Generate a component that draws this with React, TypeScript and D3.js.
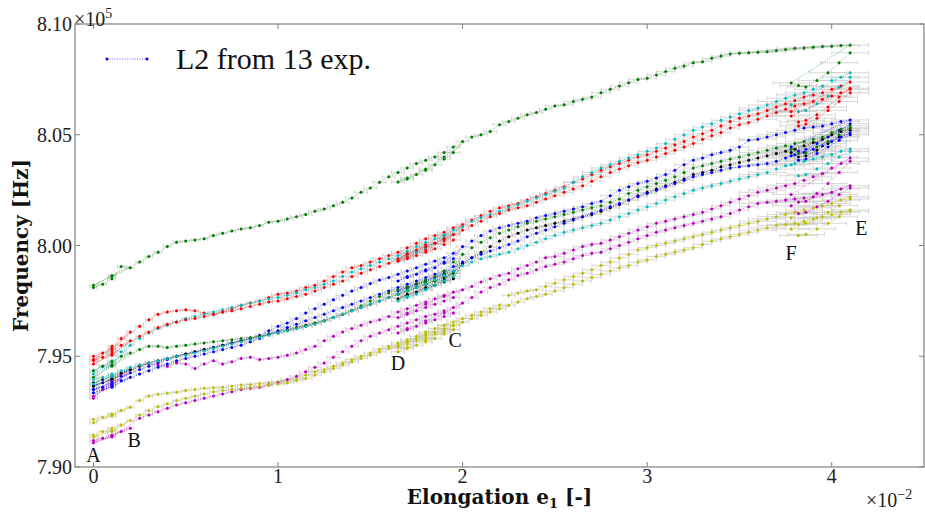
import React from 'react';
import * as d3 from 'd3';

// ---------- data (elongation in 1e-2, frequency in 1e5 Hz) ----------
const ELONGATION = [
  0, 0.05, 0.1, 0.15, 0.2, 0.25, 0.3, 0.35, 0.4, 0.45,
  0.5, 0.55, 0.6, 0.65, 0.7, 0.75, 0.8, 0.85, 0.9, 0.95,
  1.0, 1.05, 1.1, 1.15, 1.2, 1.25, 1.3, 1.35, 1.4, 1.45,
  1.5, 1.55, 1.6, 1.65, 1.7, 1.75, 1.8, 1.85, 1.9, 1.95,
  2.0, 2.05, 2.1, 2.15, 2.2, 2.25, 2.3, 2.35, 2.4, 2.45,
  2.5, 2.55, 2.6, 2.65, 2.7, 2.75, 2.8, 2.85, 2.9, 2.95,
  3.0, 3.05, 3.1, 3.15, 3.2, 3.25, 3.3, 3.35, 3.4, 3.45,
  3.5, 3.55, 3.6, 3.65, 3.7, 3.75, 3.8, 3.85, 3.9, 3.95,
  4.0, 4.05, 4.1,
];
// unloading / reloading cycles: A-B, C-D, E-F
const START_LOOP_X = [0.1, 0, 0.1];
const CD_UNLOAD_X = [1.95, 1.9, 1.85, 1.8, 1.75, 1.7, 1.65];
const CD_RELOAD_X = [1.7, 1.8, 1.9];
const EF_LOOP_X = [3.78, 3.82, 3.86, 3.92, 3.98, 4.04, 4.1];

const X_TICKS = [0, 1, 2, 3, 4];
const Y_TICKS = [7.9, 7.95, 8.0, 8.05, 8.1];
const Y_TICK_LABELS = ['7.90', '7.95', '8.00', '8.05', '8.10'];

const ERR_BREAKS = [0, 1.0, 2.5, 3.6];
const ERR_HALF_X = [0.02, 0.035, 0.05, 0.1];
const ERR_HALF_Y = 0.001;

const POINT_LABELS = ['A', 'B', 'C', 'D', 'E', 'F'];
const POINT_LABEL_X = [0, 0.22, 1.96, 1.65, 4.16, 3.78];
const POINT_LABEL_Y = [7.9023, 7.909, 7.9542, 7.9438, 8.0047, 7.9935];

const COLORS = ['#0000ff', '#008000', '#ff0000', '#00bfbf', '#bf00bf', '#bfbf00', '#000000',
  '#0000ff', '#008000', '#ff0000', '#00bfbf', '#bf00bf', '#bfbf00'];

const exp01 = [
  7.937, 7.938, 7.9395, 7.941, 7.9425, 7.944, 7.9455, 7.947, 7.9485, 7.950,
  7.951, 7.952, 7.953, 7.954, 7.955, 7.956, 7.957, 7.958, 7.9595, 7.9615,
  7.9635, 7.965, 7.967, 7.9695, 7.9715, 7.9735, 7.9755, 7.9775, 7.9795, 7.981,
  7.9828, 7.9844, 7.9855, 7.987, 7.9885, 7.990, 7.9915, 7.993, 7.9945, 7.9965,
  7.9995, 8.002, 8.0045, 8.0065, 8.008, 8.009, 8.010, 8.011, 8.0125, 8.0135,
  8.0145, 8.0155, 8.0165, 8.0175, 8.019, 8.020, 8.0225, 8.025, 8.0265, 8.028,
  8.029, 8.0305, 8.032, 8.034, 8.0365, 8.0385, 8.0395, 8.041, 8.042, 8.043,
  8.0445, 8.0475, 8.048, 8.049, 8.050, 8.051, 8.052, 8.053, 8.0535, 8.054,
  8.055, 8.056, 8.0567,
];
const exp01Loops = [7.938, 7.935, 7.9385,
  7.994, 7.992, 7.990, 7.9885, 7.987, 7.9855, 7.984,
  7.986, 7.989, 7.9925,
  8.0445, 8.0425, 8.0435, 8.046, 8.049, 8.052, 8.055];

const exp02 = [
  7.981, 7.9825, 7.985, 7.9905, 7.990, 7.9925, 7.995, 7.997, 7.9995, 8.0015,
  8.002, 8.0025, 8.003, 8.0045, 8.0055, 8.0065, 8.0075, 8.008, 8.009, 8.0105,
  8.011, 8.012, 8.013, 8.014, 8.0155, 8.0165, 8.018, 8.0195, 8.0215, 8.024,
  8.026, 8.0285, 8.031, 8.033, 8.035, 8.037, 8.0385, 8.040, 8.042, 8.0445,
  8.047, 8.049, 8.050, 8.0515, 8.0545, 8.056, 8.0575, 8.059, 8.060, 8.0615,
  8.063, 8.0635, 8.065, 8.066, 8.067, 8.069, 8.0705, 8.072, 8.0735, 8.075,
  8.0755, 8.077, 8.0785, 8.080, 8.081, 8.0825, 8.083, 8.0845, 8.0855, 8.0865,
  8.0868, 8.087, 8.0872, 8.0875, 8.088, 8.0885, 8.089, 8.0892, 8.0895, 8.0898,
  8.090, 8.0903, 8.0905,
];
const exp02Loops = [7.986, 7.982, 7.9865,
  8.042, 8.039, 8.0365, 8.034, 8.032, 8.030, 8.0287,
  8.0305, 8.0345, 8.040,
  8.0734, 8.0722, 8.0716, 8.0745, 8.078, 8.0825, 8.087];

const exp03 = [
  7.950, 7.9515, 7.9545, 7.958, 7.961, 7.9635, 7.9665, 7.969, 7.970, 7.9705,
  7.971, 7.9705, 7.9695, 7.9688, 7.970, 7.9715, 7.973, 7.974, 7.975, 7.9765,
  7.978, 7.9785, 7.9795, 7.981, 7.982, 7.984, 7.986, 7.988, 7.990, 7.991,
  7.9925, 7.994, 7.9955, 7.997, 7.999, 8.001, 8.003, 8.0045, 8.006, 8.008,
  8.0095, 8.0115, 8.0135, 8.0155, 8.017, 8.018, 8.019, 8.0205, 8.022, 8.0235,
  8.025, 8.0265, 8.0285, 8.030, 8.032, 8.034, 8.0355, 8.037, 8.0385, 8.040,
  8.041, 8.0425, 8.044, 8.0455, 8.047, 8.049, 8.0505, 8.052, 8.054, 8.056,
  8.0575, 8.0585, 8.0595, 8.061, 8.0625, 8.064, 8.0655, 8.067, 8.068, 8.069,
  8.0705, 8.072, 8.0738,
];
const exp03Loops = [7.953, 7.9485, 7.9535,
  8.005, 8.003, 8.001, 7.999, 7.997, 7.995, 7.993,
  7.9965, 8.0005, 8.0045,
  8.0605, 8.0558, 8.0565, 8.059, 8.0625, 8.067, 8.071];

const exp04 = [
  7.9435, 7.9455, 7.948, 7.952, 7.955, 7.958, 7.9605, 7.9625, 7.964, 7.9655,
  7.967, 7.968, 7.969, 7.970, 7.971, 7.972, 7.973, 7.974, 7.975, 7.9758,
  7.9765, 7.9775, 7.9785, 7.980, 7.981, 7.9825, 7.984, 7.986, 7.988, 7.9895,
  7.991, 7.9925, 7.994, 7.9955, 7.9975, 7.9995, 8.0015, 8.003, 8.005, 8.007,
  8.0085, 8.011, 8.0125, 8.014, 8.0155, 8.017, 8.0185, 8.020, 8.0215, 8.023,
  8.0245, 8.026, 8.0285, 8.031, 8.033, 8.035, 8.0365, 8.038, 8.0395, 8.041,
  8.0425, 8.044, 8.046, 8.048, 8.050, 8.052, 8.0535, 8.055, 8.0565, 8.058,
  8.0595, 8.061, 8.062, 8.0634, 8.065, 8.0665, 8.068, 8.069, 8.0705, 8.072,
  8.0745, 8.076, 8.078,
];
const exp04Loops = [7.946, 7.942, 7.9465,
  8.005, 8.003, 8.001, 7.999, 7.997, 7.9955, 7.994,
  7.996, 7.9995, 8.0035,
  8.0635, 8.0605, 8.061, 8.064, 8.0675, 8.0715, 8.076];

const exp05 = [
  7.931, 7.935, 7.939, 7.942, 7.944, 7.946, 7.9465, 7.946, 7.9455, 7.947,
  7.9465, 7.9445, 7.9465, 7.948, 7.9465, 7.9475, 7.949, 7.9495, 7.9485, 7.949,
  7.9495, 7.9505, 7.9515, 7.953, 7.9545, 7.957, 7.959, 7.961, 7.9625, 7.964,
  7.9655, 7.9665, 7.968, 7.970, 7.9715, 7.973, 7.9745, 7.976, 7.9775, 7.979,
  7.980, 7.9815, 7.9835, 7.985, 7.9865, 7.9875, 7.9895, 7.991, 7.9925, 7.9945,
  7.995, 7.9965, 7.998, 7.9995, 8.0005, 8.001, 8.0025, 8.004, 8.0055, 8.007,
  8.0085, 8.010, 8.011, 8.012, 8.013, 8.014, 8.015, 8.0165, 8.018, 8.0195,
  8.021, 8.0225, 8.024, 8.025, 8.026, 8.027, 8.028, 8.0295, 8.031, 8.0325,
  8.035, 8.037, 8.0395,
];
const exp05Loops = [7.937, 7.932, 7.937,
  7.9765, 7.975, 7.9735, 7.972, 7.9705, 7.969, 7.9675,
  7.9695, 7.9735, 7.977,
  8.023, 8.0196, 8.020, 8.0235, 8.028, 8.033, 8.038];

const exp06 = [
  7.9215, 7.9225, 7.924, 7.9255, 7.927, 7.930, 7.932, 7.9328, 7.9333, 7.9338,
  7.9345, 7.935, 7.9355, 7.9358, 7.936, 7.9365, 7.937, 7.9373, 7.9377, 7.938,
  7.9385, 7.939, 7.940, 7.9415, 7.943, 7.944, 7.9455, 7.947, 7.9485, 7.950,
  7.9515, 7.9532, 7.9545, 7.956, 7.9575, 7.959, 7.961, 7.9625, 7.964, 7.9655,
  7.967, 7.9685, 7.970, 7.9715, 7.973, 7.9775, 7.9785, 7.9795, 7.980, 7.9815,
  7.983, 7.9845, 7.986, 7.9875, 7.989, 7.991, 7.9925, 7.9944, 7.996, 7.998,
  7.999, 8.000, 8.001, 8.002, 8.003, 8.004, 8.005, 8.006, 8.007, 8.008,
  8.009, 8.010, 8.011, 8.012, 8.013, 8.014, 8.015, 8.016, 8.017, 8.018,
  8.019, 8.0205, 8.022,
];
const exp06Loops = [7.9235, 7.920, 7.923,
  7.964, 7.962, 7.960, 7.9585, 7.957, 7.9555, 7.954,
  7.9565, 7.960, 7.964,
  8.0125, 8.0095, 8.010, 8.0125, 8.015, 8.018, 8.021];

const exp07 = [
  7.938, 7.9395, 7.941, 7.9425, 7.944, 7.9455, 7.947, 7.948, 7.949, 7.950,
  7.951, 7.952, 7.953, 7.954, 7.955, 7.956, 7.957, 7.958, 7.959, 7.960,
  7.961, 7.962, 7.963, 7.964, 7.965, 7.966, 7.9675, 7.969, 7.9705, 7.972,
  7.9735, 7.975, 7.9765, 7.978, 7.9795, 7.981, 7.9825, 7.984, 7.9855, 7.9875,
  7.992, 7.9945, 7.997, 7.9995, 8.002, 8.004, 8.0055, 8.007, 8.008, 8.009,
  8.010, 8.011, 8.012, 8.013, 8.014, 8.0155, 8.017, 8.0185, 8.0205, 8.0225,
  8.024, 8.0255, 8.027, 8.0285, 8.030, 8.032, 8.033, 8.034, 8.0355, 8.0365,
  8.0375, 8.0385, 8.0395, 8.0405, 8.0415, 8.0425, 8.0435, 8.045, 8.0465, 8.048,
  8.050, 8.0515, 8.053,
];
const exp07Loops = [7.9395, 7.9365, 7.940,
  7.985, 7.9835, 7.982, 7.9805, 7.979, 7.9775, 7.976,
  7.978, 7.981, 7.9845,
  8.042, 8.040, 8.0405, 8.043, 8.046, 8.049, 8.052];

const exp08 = [
  7.935, 7.936, 7.9375, 7.939, 7.9405, 7.942, 7.9435, 7.945, 7.9465, 7.948,
  7.949, 7.950, 7.951, 7.952, 7.953, 7.954, 7.955, 7.9565, 7.958, 7.960,
  7.9615, 7.963, 7.9645, 7.966, 7.9675, 7.969, 7.9705, 7.972, 7.9735, 7.975,
  7.9765, 7.978, 7.9795, 7.981, 7.9825, 7.984, 7.9855, 7.987, 7.9885, 7.9905,
  7.9925, 7.9945, 7.996, 7.9975, 7.999, 8.0005, 8.002, 8.004, 8.0055, 8.007,
  8.0085, 8.010, 8.0115, 8.013, 8.0145, 8.016, 8.0175, 8.019, 8.0205, 8.022,
  8.0235, 8.025, 8.0265, 8.028, 8.0295, 8.031, 8.032, 8.033, 8.034, 8.035,
  8.0355, 8.036, 8.0365, 8.037, 8.038, 8.0395, 8.041, 8.042, 8.0435, 8.045,
  8.047, 8.049, 8.0508,
];
const exp08Loops = [7.936, 7.9335, 7.9365,
  7.9885, 7.987, 7.9855, 7.984, 7.9825, 7.981, 7.9795,
  7.981, 7.984, 7.9875,
  8.0405, 8.0385, 8.039, 8.0415, 8.0445, 8.0475, 8.050];

const exp09 = [
  7.9435, 7.9455, 7.9475, 7.950, 7.9515, 7.953, 7.9545, 7.9545, 7.954, 7.9545,
  7.955, 7.9555, 7.956, 7.9565, 7.957, 7.9575, 7.958, 7.9585, 7.959, 7.9598,
  7.9605, 7.9615, 7.9625, 7.9635, 7.9648, 7.966, 7.9675, 7.969, 7.9708, 7.9728,
  7.975, 7.977, 7.9785, 7.980, 7.9815, 7.983, 7.9845, 7.986, 7.9885, 7.9925,
  7.996, 7.999, 8.0015, 8.0035, 8.0055, 8.007, 8.0085, 8.010, 8.011, 8.012,
  8.013, 8.014, 8.015, 8.016, 8.017, 8.018, 8.0195, 8.021, 8.0235, 8.025,
  8.0265, 8.028, 8.0295, 8.031, 8.033, 8.035, 8.036, 8.037, 8.038, 8.039,
  8.040, 8.041, 8.042, 8.043, 8.044, 8.045, 8.046, 8.047, 8.048, 8.049,
  8.051, 8.0525, 8.054,
];
const exp09Loops = [7.946, 7.9405, 7.9455,
  7.9875, 7.986, 7.984, 7.9825, 7.981, 7.9795, 7.978,
  7.9805, 7.9835, 7.987,
  8.0435, 8.0415, 8.042, 8.0445, 8.047, 8.050, 8.053];

const exp10 = [
  7.948, 7.9495, 7.952, 7.955, 7.957, 7.959, 7.961, 7.963, 7.9645, 7.9655,
  7.9665, 7.967, 7.968, 7.969, 7.970, 7.9705, 7.9715, 7.9725, 7.9735, 7.9745,
  7.975, 7.976, 7.977, 7.978, 7.9795, 7.981, 7.9825, 7.984, 7.986, 7.9875,
  7.989, 7.9905, 7.992, 7.994, 7.996, 7.998, 7.9995, 8.001, 8.003, 8.005,
  8.007, 8.009, 8.011, 8.013, 8.0145, 8.016, 8.017, 8.018, 8.0195, 8.021,
  8.0225, 8.024, 8.0255, 8.027, 8.029, 8.031, 8.033, 8.0345, 8.036, 8.0375,
  8.0385, 8.040, 8.0415, 8.043, 8.0445, 8.046, 8.048, 8.0495, 8.051, 8.053,
  8.0545, 8.0555, 8.057, 8.0585, 8.060, 8.0615, 8.063, 8.064, 8.065, 8.066,
  8.0675, 8.069, 8.0705,
];
const exp10Loops = [7.9505, 7.9465, 7.951,
  8.0025, 8.0005, 7.9985, 7.997, 7.9955, 7.994, 7.993,
  7.9945, 7.998, 8.002,
  8.0585, 8.054, 8.0548, 8.0575, 8.061, 8.065, 8.069];

const exp11 = [
  7.9395, 7.9405, 7.942, 7.9435, 7.945, 7.946, 7.947, 7.948, 7.949, 7.950,
  7.9505, 7.9515, 7.9525, 7.9535, 7.9545, 7.9555, 7.9565, 7.9575, 7.9585, 7.9595,
  7.9605, 7.9615, 7.9625, 7.9635, 7.9645, 7.966, 7.9675, 7.969, 7.9705, 7.972,
  7.9735, 7.975, 7.9765, 7.978, 7.9795, 7.981, 7.9825, 7.9845, 7.9865, 7.9885,
  7.991, 7.9925, 7.994, 7.995, 7.996, 7.997, 7.9985, 8.000, 8.0015, 8.003,
  8.0045, 8.006, 8.007, 8.008, 8.009, 8.010, 8.0115, 8.013, 8.0145, 8.016,
  8.0175, 8.019, 8.0205, 8.022, 8.0235, 8.025, 8.026, 8.027, 8.028, 8.029,
  8.030, 8.031, 8.032, 8.033, 8.0345, 8.036, 8.037, 8.038, 8.039, 8.040,
  8.041, 8.0425, 8.0436,
];
const exp11Loops = [7.941, 7.9375, 7.9415,
  7.986, 7.984, 7.982, 7.980, 7.978, 7.9765, 7.975,
  7.977, 7.980, 7.984,
  8.0365, 8.0315, 8.032, 8.0345, 8.037, 8.040, 8.0425];

const exp12 = [
  7.912, 7.913, 7.9145, 7.916, 7.9175, 7.922, 7.9235, 7.925, 7.9265, 7.928,
  7.929, 7.930, 7.931, 7.932, 7.933, 7.934, 7.935, 7.9355, 7.936, 7.937,
  7.938, 7.9395, 7.941, 7.943, 7.945, 7.947, 7.9495, 7.952, 7.9545, 7.957,
  7.959, 7.9605, 7.962, 7.9635, 7.965, 7.9665, 7.968, 7.969, 7.9705, 7.972,
  7.974, 7.9765, 7.979, 7.981, 7.9825, 7.9845, 7.9865, 7.9875, 7.989, 7.9905,
  7.9915, 7.9925, 7.994, 7.9955, 7.9965, 7.997, 7.9985, 8.000, 8.0015, 8.003,
  8.0045, 8.006, 8.007, 8.008, 8.009, 8.010, 8.011, 8.012, 8.013, 8.0145,
  8.016, 8.0175, 8.019, 8.0195, 8.020, 8.0205, 8.021, 8.0215, 8.022, 8.023,
  8.024, 8.0255, 8.027,
];
const exp12Loops = [7.914, 7.911, 7.9135,
  7.9695, 7.968, 7.9665, 7.965, 7.9635, 7.962, 7.9605,
  7.9625, 7.966, 7.9695,
  8.018, 8.0145, 8.015, 8.0175, 8.020, 8.023, 8.026];

const exp13 = [
  7.9145, 7.916, 7.9175, 7.919, 7.921, 7.9235, 7.9255, 7.9272, 7.9285, 7.930,
  7.931, 7.932, 7.933, 7.934, 7.9345, 7.935, 7.9355, 7.936, 7.9365, 7.937,
  7.9375, 7.938, 7.939, 7.940, 7.9415, 7.943, 7.9445, 7.946, 7.9475, 7.949,
  7.9505, 7.952, 7.9535, 7.955, 7.9565, 7.958, 7.9595, 7.961, 7.9625, 7.964,
  7.9655, 7.967, 7.9685, 7.970, 7.9715, 7.973, 7.9745, 7.976, 7.977, 7.978,
  7.9795, 7.981, 7.9825, 7.984, 7.9855, 7.987, 7.9885, 7.990, 7.991, 7.9925,
  7.9935, 7.995, 7.996, 7.997, 7.998, 7.999, 8.0005, 8.002, 8.003, 8.004,
  8.005, 8.006, 8.007, 8.008, 8.009, 8.0095, 8.010, 8.011, 8.012, 8.013,
  8.014, 8.015, 8.016,
];
const exp13Loops = [7.916, 7.9135, 7.9165,
  7.962, 7.960, 7.958, 7.9565, 7.955, 7.9535, 7.952,
  7.954, 7.9575, 7.961,
  8.0075, 8.0045, 8.005, 8.0075, 8.010, 8.013, 8.0155];

const EXPERIMENTS = [
  [exp01, exp01Loops], [exp02, exp02Loops], [exp03, exp03Loops], [exp04, exp04Loops],
  [exp05, exp05Loops], [exp06, exp06Loops], [exp07, exp07Loops], [exp08, exp08Loops],
  [exp09, exp09Loops], [exp10, exp10Loops], [exp11, exp11Loops], [exp12, exp12Loops],
  [exp13, exp13Loops],
];

type Pt = [number, number];

function buildPath(load: number[], loops: number[]): Pt[] {
  const pts: Pt[] = [];
  const pushLoad = (a: number, b: number) => {
    for (let i = a; i <= b && i < load.length; i++) pts.push([ELONGATION[i], load[i]]);
  };
  const pushLoop = (xs: number[], off: number) => xs.forEach((x, k) => pts.push([x, loops[off + k]]));
  pushLoad(0, 4);
  pushLoop(START_LOOP_X, 0);
  pushLoad(5, 40);
  pushLoop(CD_UNLOAD_X, 3);
  pushLoop(CD_RELOAD_X, 10);
  pushLoad(41, 82);
  pushLoop(EF_LOOP_X, 13);
  return pts;
}

function errHalf(x: number) {
  const i = Math.max(0, d3.bisectRight(ERR_BREAKS, x) - 1);
  return ERR_HALF_X[i];
}

const FONT = "'Liberation Serif', 'Times New Roman', serif";
const LABEL_FONT = "'DejaVu Serif', serif";

export default function App() {
  const W = 925, H = 513;
  const L = 75, R = 924, T = 24, B = 467;
  const x = d3.scaleLinear().domain([-0.1, 4.5]).range([L, R]);
  const y = d3.scaleLinear().domain([7.9, 8.1]).range([B, T]);
  const line = d3.line<Pt>().x(d => x(d[0])).y(d => y(d[1]));
  const series = EXPERIMENTS.map(([load, loops], i) => ({ pts: buildPath(load, loops), color: COLORS[i] }));

  return (
    <svg width={W} height={H} style={{ position: 'absolute', left: 0, top: 0, background: '#fff' }}
      fontFamily={FONT}>
      <defs>
        <clipPath id="plotClip"><rect x={L} y={T} width={R - L} height={B - T} /></clipPath>
      </defs>
      <g clipPath="url(#plotClip)">
        {/* error bars */}
        <g stroke="#c8c8c8" strokeWidth={0.7} fill="none">
          {series.map((s, si) => s.pts.map((p, pi) => {
            const e = errHalf(p[0]);
            const x0 = x(p[0] - e), x1 = x(p[0] + e), cy = y(p[1]), cx = x(p[0]);
            return (
              <path key={si + '-' + pi}
                d={`M${x0},${cy}H${x1}M${x0},${cy - 2}V${cy + 2}M${x1},${cy - 2}V${cy + 2}M${cx},${y(p[1] + ERR_HALF_Y)}V${y(p[1] - ERR_HALF_Y)}`} />
            );
          }))}
        </g>
        {series.map((s, si) => (
          <g key={si}>
            <path d={line(s.pts) || ''} fill="none" stroke={s.color} strokeWidth={0.6} strokeDasharray="1 1.5" />
            {s.pts.map((p, pi) => (
              <circle key={pi} cx={x(p[0])} cy={y(p[1])} r={1.5} fill={s.color} />
            ))}
          </g>
        ))}
      </g>

      {/* frame */}
      <rect x={L} y={T} width={R - L} height={B - T} fill="none" stroke="#808080" strokeWidth={1.2} />
      {/* ticks */}
      <g stroke="#808080" strokeWidth={1}>
        {X_TICKS.map(t => (
          <g key={'xt' + t}>
            <line x1={x(t)} x2={x(t)} y1={B} y2={B - 5} />
            <line x1={x(t)} x2={x(t)} y1={T} y2={T + 5} />
          </g>
        ))}
        {Y_TICKS.map(t => (
          <g key={'yt' + t}>
            <line x1={L} x2={L + 5} y1={y(t)} y2={y(t)} />
            <line x1={R} x2={R - 5} y1={y(t)} y2={y(t)} />
          </g>
        ))}
      </g>
      {/* tick labels */}
      <g fontSize={20} fill="#222">
        {X_TICKS.map(t => (
          <text key={'xl' + t} x={x(t)} y={B + 16} textAnchor="middle">{String(t)}</text>
        ))}
        {Y_TICKS.map((t, i) => (
          <text key={'yl' + t} x={L - 3} y={y(t) + 7} textAnchor="end">{Y_TICK_LABELS[i]}</text>
        ))}
        <text x={74} y={26}>×10<tspan fontSize={14} dy={-8}>5</tspan></text>
        <text x={866} y={507}>×10<tspan fontSize={14} dy={-8}>−2</tspan></text>
      </g>
      {/* axis labels */}
      <text x={(L + R) / 2} y={504} textAnchor="middle" fontSize={20} fontWeight="bold" fill="#111"
        fontFamily={LABEL_FONT}>
        Elongation e<tspan fontSize={13} dy={4}>1</tspan><tspan dy={-4}> [-]</tspan>
      </text>
      <text transform={`translate(28,${(T + B) / 2}) rotate(-90)`} textAnchor="middle" fontSize={20}
        fontWeight="bold" fill="#111" fontFamily={LABEL_FONT}>Frequency [Hz]</text>

      {/* point labels */}
      <g fontSize={20} fill="#111" textAnchor="middle">
        {POINT_LABELS.map((s, i) => (
          <text key={s} x={x(POINT_LABEL_X[i])} y={y(POINT_LABEL_Y[i])}>{s}</text>
        ))}
      </g>

      {/* legend */}
      <g>
        <line x1={107} x2={147} y1={59} y2={59} stroke="#0000ff" strokeWidth={0.6} strokeDasharray="1 1.5" />
        <circle cx={107} cy={59} r={1.5} fill="#0000ff" />
        <circle cx={147} cy={59} r={1.5} fill="#0000ff" />
        <text x={176} y={69} fontSize={30} fill="#111">L2 from 13 exp.</text>
      </g>
    </svg>
  );
}
